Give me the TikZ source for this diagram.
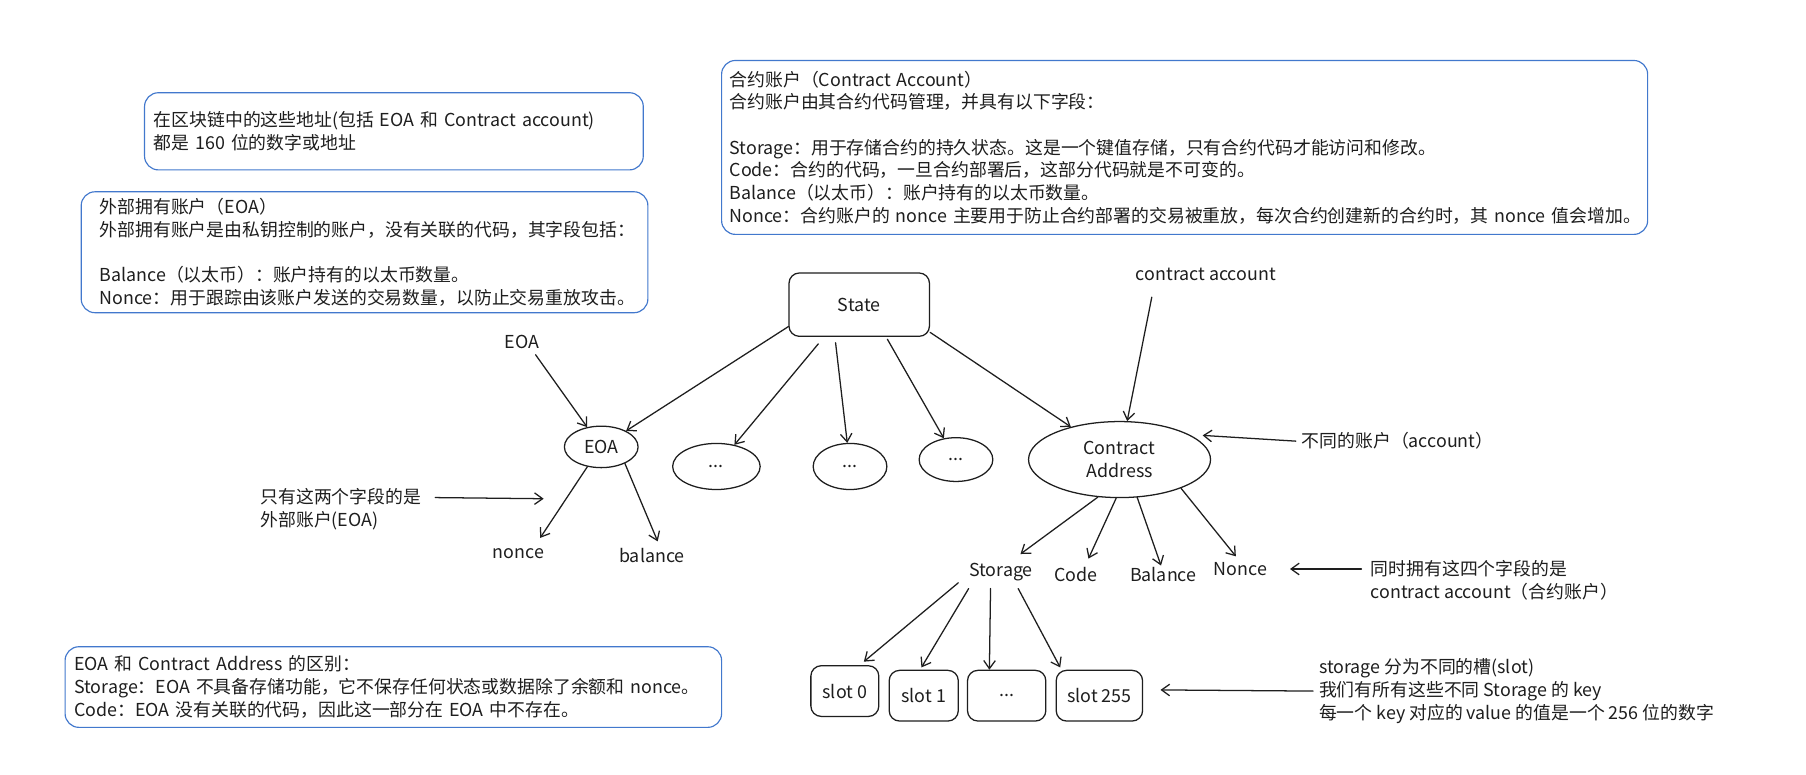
\documentclass[tikz,border=0pt]{standalone}
\usepackage{fontspec}
\setmainfont{Noto Sans CJK SC}
\usetikzlibrary{arrows.meta,shapes.geometric}
\definecolor{ink}{HTML}{1E1E1E}
\definecolor{noteblue}{RGB}{66,120,205}
\newcommand\dotsmark{...}

\begin{document}
\begin{tikzpicture}[x=1pt,y=-1pt,line cap=round,line join=round,
  >={Straight Barb[length=7pt,width=10pt]},
  every node/.style={inner sep=2pt,text=ink,font=\fontsize{15.5pt}{19.7pt}\selectfont},
  note/.style={draw=noteblue,line width=1pt,rounded corners=12pt,anchor=north west,align=left,inner ysep=0pt,inner xsep=8pt},
  oval/.style={draw=ink,ellipse,line width=1.1pt,inner sep=0pt},
  cell/.style={draw=ink,rounded corners=9pt,line width=1.1pt,inner sep=0pt},
  arr/.style={->,draw=ink,line width=1.1pt}]
  \useasboundingbox[fill=white] (0,0) rectangle (1568,672);

  \node[note,text width=417pt,minimum height=67pt] (addrnote) at (125,80)
    {在区块链中的这些地址(包括 EOA 和 Contract account)\\都是 160 位的数字或地址};
  \node[note,inner xsep=16pt,text width=460pt,minimum height=105pt] (eoanote) at (70,166)
    {外部拥有账户（EOA）\\外部拥有账户是由私钥控制的账户，没有关联的代码，其字段包括：\\[19.7pt]
     Balance（以太币）：账户持有的以太币数量。\\
     Nonce：用于跟踪由该账户发送的交易数量，以防止交易重放攻击。};
  \node[note,inner xsep=7pt,text width=790pt,minimum height=151pt] (cnote) at (626,52)
    {合约账户（Contract Account）\\合约账户由其合约代码管理，并具有以下字段：\\[19.7pt]
     Storage：用于存储合约的持久状态。这是一个键值存储，只有合约代码才能访问和修改。\\
     Code：合约的代码，一旦合约部署后，这部分代码就是不可变的。\\
     Balance（以太币）：账户持有的以太币数量。\\
     \mbox{Nonce：合约账户的 nonce 主要用于防止合约部署的交易被重放，每次合约创建新的合约时，其 nonce 值会增加。}};
  \node[note,text width=554pt,minimum height=70pt] (diffnote) at (56,561)
    {EOA 和 Contract Address 的区别：\\
     \mbox{Storage：EOA 不具备存储功能，它不保存任何状态或数据除了余额和 nonce。}\\
     Code：EOA 没有关联的代码，因此这一部分在 EOA 中不存在。};

  \node[cell,minimum width=122pt,minimum height=55pt] (state) at (746,264.5) {State};
  \node[oval,minimum width=64pt,minimum height=36pt] (eoa) at (522,388) {EOA};
  \node[oval,minimum width=76pt,minimum height=40pt] (accA) at (622,405) {...};
  \node[oval,minimum width=64pt,minimum height=40pt] (accB) at (738,405) {...};
  \node[oval,minimum width=64pt,minimum height=38pt] (accC) at (830,399) {...};
  \node[oval,minimum width=158pt,minimum height=66pt,align=center] (contract) at (972,399) {Contract\\Address};

  \node (eoalbl) at (453,297) {EOA};
  \node (calbl) at (1047,238) {contract account};
  \node (eoanonce) at (450,481) {nonce};
  \node (eoabal) at (566,482) {balance};
  \node (cstore) at (869,497) {Storage};
  \node (ccode) at (934,499) {Code};
  \node (cbal) at (1010,499) {Balance};
  \node (cnonce) at (1077,494) {Nonce};

  \foreach \nm/\cx/\cy/\w/\txt in {slotA/733.5/600/59pt/slot 0,slotB/802/604/60pt/slot 1,
      slotC/874/604/68pt/\dotsmark,slotD/954.5/604/75pt/slot 255}
    \node[cell,minimum width=\w,minimum height=44pt] (\nm) at (\cx,\cy) {\txt};

  \node[anchor=west,align=left] (twonote) at (224,442) {只有这两个字段的是\\外部账户(EOA)};
  \node[anchor=west] (acctnote) at (1128,383) {不同的账户（account）};
  \node[anchor=west,align=left] (fournote) at (1188,504) {同时拥有这四个字段的是\\contract account（合约账户）};
  \node[anchor=west,align=left] (slotnote) at (1143,600)
    {storage 分为不同的槽(slot)\\我们有所有这些不同 Storage 的 key\\每一个 key 对应的 value 的值是一个 256 位的数字};
  \coordinate (twotip) at (472,433);

  \draw[arr] ([yshift=9pt]state.south west) -- (eoa);
  \draw[arr] ([xshift=26pt,yshift=-6pt]state.south west) -- (accA);
  \draw[arr] ([xshift=41pt,yshift=-5pt]state.south west) -- (accB);
  \draw[arr] ([xshift=86pt,yshift=-2pt]state.south west) -- (accC);
  \draw[arr] ([yshift=4pt]state.south east) -- (contract);
  \draw[arr] ([xshift=-47pt,yshift=-20pt]calbl.center) -- (contract);
  \draw[arr] ([xshift=12pt,yshift=-11pt]eoalbl.center) -- (eoa);
  \draw[arr] (eoa.235) -- ([xshift=19pt,yshift=14pt]eoanonce.center);
  \draw[arr] (eoa.-35) -- ([xshift=5pt,yshift=12pt]eoabal.center);
  \draw[arr] (contract.240) -- ([xshift=17pt,yshift=16pt]cstore.center);
  \draw[arr] (contract.265) -- ([xshift=11pt,yshift=14pt]ccode.center);
  \draw[arr] (contract.295) -- ([xshift=-2pt,yshift=8pt]cbal.center);
  \draw[arr] (contract.335) -- ([xshift=-4pt,yshift=11pt]cnonce.center);
  \foreach \dx/\dy/\tgt/\ex/\ey in {-37pt/-9pt/slotA/16.5pt/3pt,-28pt/-14pt/slotB/-2pt/2pt,
      -9pt/-14pt/slotC/-15pt/0pt,15pt/-14pt/slotD/-34pt/2pt}
    \draw[arr] ([xshift=\dx,yshift=\dy]cstore.center) -- ([xshift=\ex,yshift=\ey]\tgt.north);

  \draw[arr] ([xshift=10pt,yshift=10pt]twonote.east) -- (twotip);
  \draw[arr] ([xshift=-3pt]acctnote.west) -- ([xshift=5pt,yshift=3pt]contract.15);
  \draw[arr] ([xshift=-6pt,yshift=10pt]fournote.west) -- ([xshift=43pt]cnonce.center);
  \draw[arr] ([xshift=-3pt]slotnote.west) -- ([xshift=15pt,yshift=5pt]slotD.east);
\end{tikzpicture}
\end{document}
